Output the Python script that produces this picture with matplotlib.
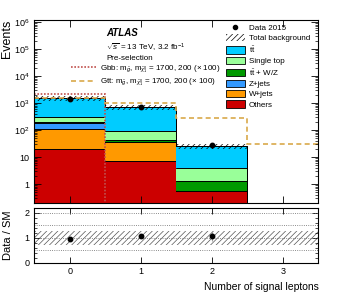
import numpy as np
import matplotlib
matplotlib.use('Agg')
import matplotlib.pyplot as plt
from matplotlib.patches import Patch
from matplotlib.lines import Line2D
from matplotlib.ticker import FixedLocator, MultipleLocator, LogLocator, NullFormatter

plt.rcParams['font.family'] = ['Liberation Sans', 'DejaVu Sans']
plt.rcParams['mathtext.fontset'] = 'custom'
plt.rcParams['mathtext.rm'] = 'Liberation Sans'
plt.rcParams['mathtext.it'] = 'Liberation Sans:italic'
plt.rcParams['mathtext.bf'] = 'Liberation Sans:bold'
plt.rcParams['hatch.linewidth'] = 0.5

# Data
nlep = [0, 1, 2, 3]
edges = np.array([-0.5, 0.5, 1.5, 2.5, 3.5])
others = [20, 7, 0.55, 0]
wjets = [87, 28, 0, 0]
zjets = [83, 0.5, 0, 0]
ttv = [15, 8, 0.75, 0]
single_top = [90, 50, 2.5, 0]
ttbar = [1205, 606, 22, 0]
bkg_err = [0.2, 0.2, 0.2, 0.2]
data = [1450, 730, 27]
gbb = [2100, 0.01, 0.01, 0.01]
gtt = [1550, 1050, 270, 30]
ratio = [0.95, 1.05, 1.06]
ratio_err = [0.03, 0.05, 0.2]
ratio_band = [0.28, 0.28, 0.28, 0.28]

components = [
    (others, '#cc0000', 'Others'),
    (wjets, '#ff9900', 'W+jets'),
    (zjets, '#3399ff', 'Z+jets'),
    (ttv, '#009900', r'$\mathrm{t\bar{t}}$ + W/Z'),
    (single_top, '#99ff99', 'Single top'),
    (ttbar, '#00ccff', r'$\mathrm{t\bar{t}}$'),
]

fig = plt.figure(figsize=(3.57, 2.94), dpi=100)
ax = fig.add_axes([0.0966, 0.3095, 0.7955, 0.6225])
rax = fig.add_axes([0.0966, 0.107, 0.7955, 0.1865])

# stacked backgrounds
bottom = np.full(4, 1e-3)
for vals, col, lab in components:
    top = bottom + np.array(vals, dtype=float)
    ax.stairs(top, edges, baseline=bottom, fill=True, color=col, lw=0)
    ax.stairs(top, edges, baseline=None, color='black', lw=0.7)
    bottom = top
total = bottom
ax.stairs(total, edges, baseline=1e-3, color='black', lw=0.7)

err = np.array(bkg_err)
ax.stairs(total * (1 + err), edges, baseline=total * (1 - err), fill=True,
          facecolor='none', edgecolor='black', hatch='//////', lw=0)

# signals
ax.stairs(gbb, edges, baseline=None, color='#c0504d', lw=1.2, ls=(0, (1, 1)))
ax.stairs(gtt, edges, baseline=None, color='#d9a94a', lw=1.2, ls=(0, (3, 2)))

# data
ax.errorbar(nlep[:3], data, yerr=np.sqrt(data), fmt='o', color='black',
            ms=3.2, lw=0.8, capsize=0)

ax.set_yscale('log')
ax.set_ylim(0.2, 1.2e6)
ax.set_xlim(-0.5, 3.5)
ax.yaxis.set_major_locator(FixedLocator([1, 10, 1e2, 1e3, 1e4, 1e5, 1e6]))
ax.set_yticklabels(['1', '10', '$10^2$', '$10^3$', '$10^4$', '$10^5$', '$10^6$'])
ax.yaxis.set_minor_locator(LogLocator(base=10, subs=np.arange(2, 10), numticks=20))
ax.yaxis.set_minor_formatter(NullFormatter())
ax.set_xticks(nlep)
ax.set_xticklabels([])
ax.tick_params(which='both', direction='in', top=True, right=True, labelsize=6.5)
ax.tick_params(which='major', length=5, width=0.6)
ax.tick_params(which='minor', length=2.5, width=0.5)
ax.set_ylabel('Events', fontsize=9, loc='top')

# legends
handles = [Line2D([], [], marker='o', color='black', ls='none', ms=3),
           Patch(facecolor='white', edgecolor='black', hatch='//////', lw=0)]
labels = ['Data 2015', 'Total background']
for vals, col, lab in components[::-1]:
    handles.append(Patch(facecolor=col, edgecolor='black', lw=0.6))
    labels.append(lab)
fig.legend(handles, labels, loc='upper left', bbox_to_anchor=(0.633, 0.92),
           bbox_transform=fig.transFigure, frameon=False, fontsize=5.8,
           handlelength=2.3, handleheight=1.0, handletextpad=0.5,
           labelspacing=0.25, borderpad=0, borderaxespad=0)

sig_h = [Line2D([], [], color='#c0504d', lw=1.2, ls=(0, (1, 1))),
         Line2D([], [], color='#d9a94a', lw=1.2, ls=(0, (3, 2)))]
sig_l = [r'Gbb: m$_{\tilde{g}}$, m$_{\tilde{\chi}^0_1}$ = 1700, 200 (× 100)',
         r'Gtt: m$_{\tilde{g}}$, m$_{\tilde{\chi}^0_1}$ = 1700, 200 (× 100)']
fig.legend(sig_h, sig_l, loc='upper left', bbox_to_anchor=(0.2, 0.785),
           bbox_transform=fig.transFigure, frameon=False, fontsize=5.8,
           handlelength=3.1, handletextpad=0.5, labelspacing=0.2,
           borderpad=0, borderaxespad=0)

fig.text(106 / 357, 1 - 33 / 294, 'ATLAS', fontsize=7, weight='bold',
         style='italic', va='center')
fig.text(106 / 357, 1 - 48 / 294, r'$\sqrt{s}$ = 13 TeV, 3.2 fb$^{-1}$',
         fontsize=5.8, va='center')
fig.text(106 / 357, 1 - 59 / 294, 'Pre-selection', fontsize=5.8, va='center')

# ratio panel
rb = np.array(ratio_band)
rax.stairs(1 + rb, edges, baseline=1 - rb, fill=True, facecolor='none',
           edgecolor='#555555', hatch='//////', lw=0)
for yv in [0.5, 1, 1.5, 2]:
    rax.axhline(yv, color='#666666', ls=':', lw=0.6)
rax.errorbar(nlep[:3], ratio, yerr=ratio_err, fmt='o', color='black',
             ecolor='#999999', ms=3.2, lw=0.8, capsize=0)
rax.set_xlim(-0.5, 3.5)
rax.set_ylim(0, 2.2)
rax.set_xticks(nlep)
rax.yaxis.set_major_locator(MultipleLocator(1))
rax.yaxis.set_minor_locator(MultipleLocator(0.2))
rax.tick_params(which='both', direction='in', top=True, right=True, labelsize=6.5)
rax.tick_params(which='major', length=4, width=0.6)
rax.tick_params(which='minor', length=2, width=0.5)
rax.set_ylabel('Data / SM', fontsize=8)
rax.set_xlabel('Number of signal leptons', fontsize=7.5, loc='right')
rax.yaxis.set_label_coords(-0.075, 0.5)
ax.yaxis.set_label_coords(-0.075, 1.0)

fig.savefig('out.png', dpi=100)
